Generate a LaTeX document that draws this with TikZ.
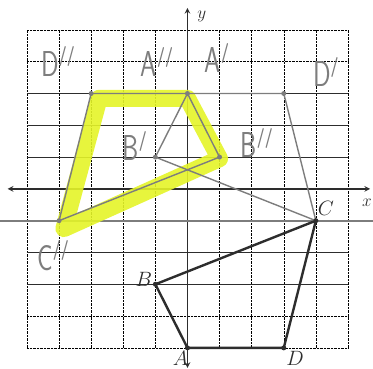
\documentclass[tikz,border=0pt]{standalone}
\usepackage{graphicx}
\definecolor{pencil}{RGB}{125,125,125}
\definecolor{ink}{RGB}{45,45,45}
\definecolor{marker}{RGB}{228,244,40}
\newcommand{\hw}[2]{\scalebox{.72}[1]{#1\raisebox{.4em}{\fontsize{20}{20}\bfseries\selectfont#2}}}
\tikzset{
  hand/.style={text=pencil,font=\sffamily\fontsize{36}{36}\selectfont,inner sep=0pt},
  printlbl/.style={text=ink,font=\fontsize{20}{20}\selectfont,inner sep=0pt},
  pt/.style={circle,fill=#1,inner sep=0pt,minimum size=5pt}
}
\begin{document}
\begin{tikzpicture}[x=32.1pt,y=31.8pt]
\useasboundingbox (-5.84,-5.66) rectangle (5.78,5.94);
% grid
\foreach \i in {-5,...,5} \draw[densely dotted,thin] (\i,-5)--(\i,5);
\foreach \j in {5,4,-4,-5} \draw[densely dotted,thin] (-5,\j)--(5,\j);
\foreach \j in {3,2,1,-2,-3} \draw[ink,semithick] (-5,\j)--(5,\j);
% axes
\draw[ink,line width=1.5pt,<->,>=stealth] (-5.6,0)--(5.69,0);
\draw[ink,line width=1.5pt,<->,>=stealth] (0,5.69)--(0,-5.63);
\node[printlbl,font=\fontsize{16}{16}\selectfont] (xlab) at (5.59,-0.44) {$x$};
\node[printlbl,font=\fontsize{16}{16}\selectfont] (ylab) at (0.45,5.41) {$y$};
% line y=-1
\draw[pencil,line width=2.2pt] (-5.84,-1)--(5.78,-1);
% highlighter
\draw[marker,line width=17pt,line join=round,opacity=.9] (-2.75,2.85)--(0,2.85)--(1,0.95)--(-3.85,-1.25)--cycle;
% points
\coordinate (A) at (0,-5); \coordinate (B) at (-1,-3);
\coordinate (C) at (4,-1); \coordinate (D) at (3,-5);
\coordinate (A1) at (0,3); \coordinate (B1) at (-1,1); \coordinate (D1) at (3,3);
\coordinate (A2) at (0,3); \coordinate (B2) at (1,1);
\coordinate (C2) at (-4,-1); \coordinate (D2) at (-3,3);
\draw[ink,line width=2.4pt,line join=round] (A)--(B)--(C)--(D)--cycle;
\draw[pencil,line width=1.4pt] (A1)--(B1)--(C)--(D1)--(A1);
\draw[pencil,line width=1.4pt] (A2)--(B2)--(C2)--(D2)--(A2);
\foreach \p in {A,B,C,D} \node[pt=ink] at (\p) {};
\foreach \p in {A1,B1,D1,B2,C2,D2} \node[pt=pencil] at (\p) {};
% labels
\node[printlbl] (lA) at (-0.22,-5.32) {$A$};
\node[printlbl] (lB) at (-1.36,-2.86) {$B$};
\node[printlbl] (lC) at (4.31,-0.6) {$C$};
\node[printlbl] (lD) at (3.35,-5.32) {$D$};
\node[hand] (lA1) at (0.92,4.12) {\hw{A}{/}};
\node[hand] (lB1) at (-1.64,1.35) {\hw{B}{/}};
\node[hand] (lD1) at (4.31,3.68) {\hw{D}{/}};
\node[hand] (lA2) at (-0.95,3.99) {\hw{A}{//}};
\node[hand] (lB2) at (2.16,1.45) {\hw{B}{//}};
\node[hand] (lC2) at (-4.19,-2.1) {\hw{C}{//}};
\node[hand] (lD2) at (-4.03,4.0) {\hw{D}{//}};
\end{tikzpicture}
\end{document}
